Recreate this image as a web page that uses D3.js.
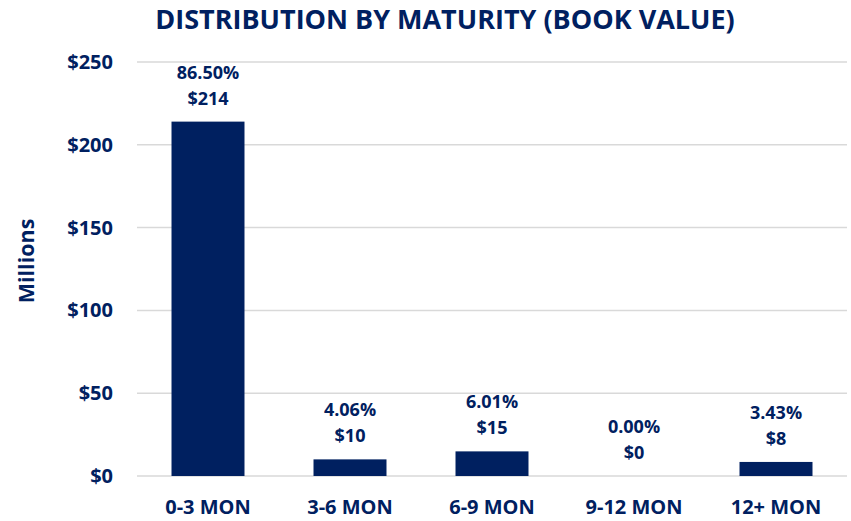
<!DOCTYPE html>
<html>
<head>
<meta charset="utf-8">
<script src="https://cdn.jsdelivr.net/npm/d3@7"></script>
<style>
  body { margin: 0; background: #fff; }
  text { font-family: "Open Sans", sans-serif; font-weight: bold; fill: #002060; }
</style>
</head>
<body>
<div id="chart"></div>
<script>
const categories = ["0-3 MON", "3-6 MON", "6-9 MON", "9-12 MON", "12+ MON"];
const values = [214, 10.04, 14.87, 0, 8.49];
const shares = ["86.50%", "4.06%", "6.01%", "0.00%", "3.43%"];
const yTicks = [0, 50, 100, 150, 200, 250];

const width = 851, height = 521;
const margin = {top: 62, right: 4, bottom: 45, left: 137};

const svg = d3.select("#chart").append("svg")
  .attr("width", width)
  .attr("height", height);

const x = d3.scaleBand()
  .domain(categories)
  .range([margin.left, width - margin.right])
  .paddingInner(0.486)
  .paddingOuter(0.243);

const y = d3.scaleLinear()
  .domain([0, 250])
  .range([height - margin.bottom, margin.top]);

// gridlines
svg.append("g")
  .selectAll("line")
  .data(yTicks)
  .enter()
  .append("line")
  .attr("x1", margin.left)
  .attr("x2", width - margin.right)
  .attr("y1", d => y(d))
  .attr("y2", d => y(d))
  .attr("stroke", "#d9d9d9")
  .attr("stroke-width", 1.5);

// y axis
const yAxis = svg.append("g")
  .attr("transform", "translate(" + margin.left + ",0)")
  .call(d3.axisLeft(y).tickValues(yTicks).tickFormat(d => "$" + d).tickSize(0).tickPadding(24));
yAxis.select(".domain").remove();
yAxis.selectAll("text")
  .attr("font-size", 20)
  .attr("font-family", null)
  .attr("fill", null);

// x axis
const xAxis = svg.append("g")
  .attr("transform", "translate(0," + (height - margin.bottom) + ")")
  .call(d3.axisBottom(x).tickSize(0).tickPadding(24));
xAxis.select(".domain").remove();
xAxis.selectAll("text")
  .attr("font-size", 20)
  .attr("font-family", null)
  .attr("fill", null);

// bars
svg.append("g")
  .selectAll("rect")
  .data(values)
  .enter()
  .append("rect")
  .attr("x", (d, i) => x(categories[i]))
  .attr("y", d => y(d))
  .attr("width", x.bandwidth())
  .attr("height", d => y(0) - y(d))
  .attr("fill", "#002060");

// data labels
const labels = svg.append("g")
  .selectAll("text")
  .data(values)
  .enter()
  .append("text")
  .attr("text-anchor", "middle")
  .attr("font-size", 18)
  .attr("x", (d, i) => x(categories[i]) + x.bandwidth() / 2);

labels.append("tspan")
  .attr("y", d => y(d) - 43)
  .attr("x", (d, i) => x(categories[i]) + x.bandwidth() / 2)
  .text((d, i) => shares[i]);
labels.append("tspan")
  .attr("y", d => y(d) - 17)
  .attr("x", (d, i) => x(categories[i]) + x.bandwidth() / 2)
  .text(d => "$" + Math.round(d));

// title
svg.append("text")
  .attr("x", 445)
  .attr("y", 29)
  .attr("text-anchor", "middle")
  .attr("font-size", 27)
  .text("DISTRIBUTION BY MATURITY (BOOK VALUE)");

// y axis title
svg.append("text")
  .attr("transform", "translate(34," + ((y(0) + y(250)) / 2 - 8) + ")rotate(-90)")
  .attr("text-anchor", "middle")
  .attr("font-size", 21.5)
  .text("Millions");
</script>
</body>
</html>
